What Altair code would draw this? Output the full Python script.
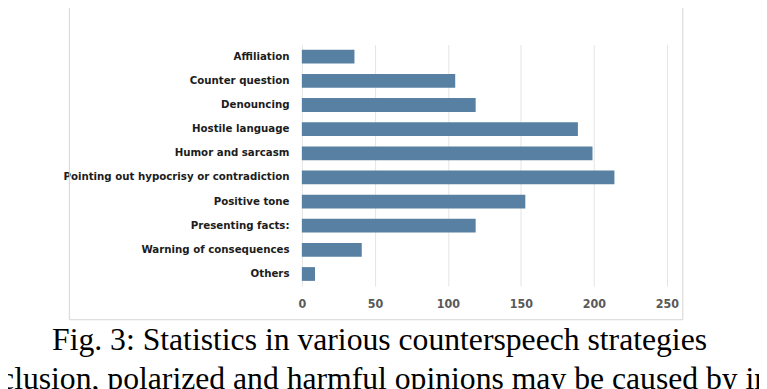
import altair as alt
import pandas as pd

categories = [
    "Affiliation",
    "Counter question",
    "Denouncing",
    "Hostile language",
    "Humor and sarcasm",
    "Pointing out hypocrisy or contradiction",
    "Positive tone",
    "Presenting facts:",
    "Warning of consequences",
    "Others",
]
counts = [36, 105, 119, 189, 199, 214, 153, 119, 41, 9]
x_ticks = [0, 50, 100, 150, 200, 250]
caption = "Fig. 3: Statistics in various counterspeech strategies"
next_line = "clusion, polarized and harmful opinions may be caused by in"

df = pd.DataFrame({"strategy": categories, "count": counts})
one = pd.DataFrame({"k": [0]})

BAR = "#5780a2"
LABEL_FONT = "DejaVu Sans Condensed, Roboto, sans-serif"

frame = alt.Chart(one).mark_rect(
    fill="white", fillOpacity=0, stroke="#d4d4d4", strokeWidth=1
).encode(
    x=alt.value(-235), x2=alt.value(385), y=alt.value(-60), y2=alt.value(278)
)

bars = alt.Chart(df).mark_bar(color=BAR).encode(
    x=alt.X(
        "count:Q",
        scale=alt.Scale(domain=[0, 250], nice=False),
        axis=alt.Axis(
            values=x_ticks,
            title=None,
            grid=True,
            gridColor="#e4e4e4",
            gridWidth=1,
            domain=False,
            ticks=False,
            labelFlush=False,
            labelFont=LABEL_FONT,
            labelFontWeight="bold",
            labelFontSize=12.5,
            labelColor="#595959",
            labelPadding=12,
        ),
    ),
    y=alt.Y(
        "strategy:N",
        sort=categories,
        scale=alt.Scale(paddingInner=0.43, paddingOuter=0.215),
        axis=alt.Axis(
            title=None,
            domain=False,
            ticks=False,
            grid=False,
            labelFont=LABEL_FONT,
            labelFontWeight="bold",
            labelFontSize=11.5,
            labelColor="#1c1c1c",
            labelPadding=13,
            labelLimit=400,
        ),
    ),
)

cap = alt.Chart(one).mark_text(
    text=caption, font="Liberation Serif", fontSize=32, color="black",
    align="center", baseline="alphabetic"
).encode(x=alt.value(78.5), y=alt.value(309))

cap2 = alt.Chart(one).mark_text(
    text=next_line, font="Liberation Serif", fontSize=32, color="black",
    align="left", baseline="alphabetic"
).encode(x=alt.value(-305), y=alt.value(348))

chart = alt.layer(frame, bars, cap, cap2).properties(
    width=369,
    height=244,
    autosize="none",
    padding={"left": 297, "top": 35, "right": 93, "bottom": 102},
    background="white",
).configure_view(stroke=None)

chart.save("out.html", embed_options={"renderer": "svg", "actions": False})
